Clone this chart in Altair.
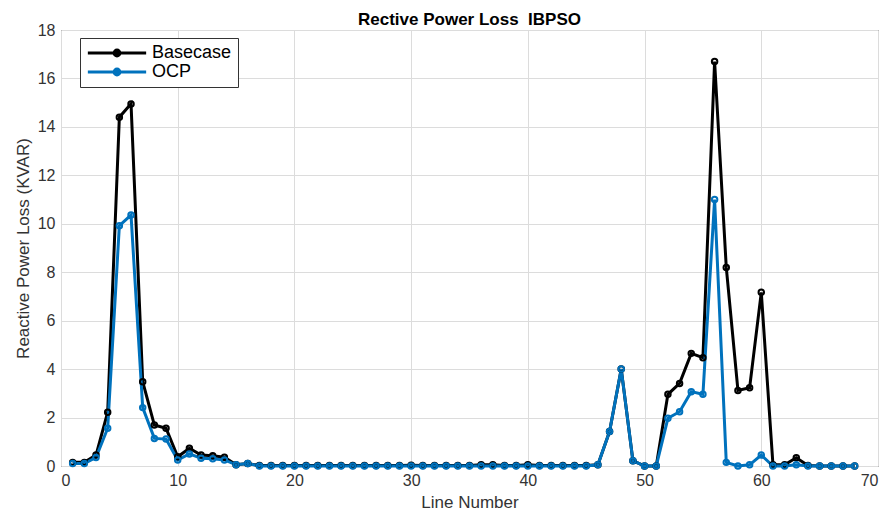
import altair as alt
import pandas as pd

lines = list(range(1, 69))
basecase = [0.15, 0.15, 0.45, 2.22, 14.4, 14.95, 3.48, 1.69, 1.56, 0.38,
            0.73, 0.45, 0.42, 0.36, 0.05, 0.1, 0.02, 0.02, 0.02, 0.02,
            0.02, 0.02, 0.02, 0.02, 0.02, 0.02, 0.02, 0.02, 0.02, 0.03,
            0.02, 0.02, 0.02, 0.02, 0.02, 0.05, 0.05, 0.02, 0.02, 0.05,
            0.02, 0.02, 0.02, 0.02, 0.02, 0.05, 1.42, 4.0, 0.22, 0.0,
            0.0, 2.96, 3.41, 4.65, 4.47, 16.7, 8.2, 3.12, 3.23, 7.17,
            0.05, 0.05, 0.34, 0.02, 0.0, 0.0, 0.0, 0.0]
ocp = [0.1, 0.1, 0.35, 1.56, 9.92, 10.36, 2.41, 1.14, 1.11, 0.25,
       0.5, 0.32, 0.3, 0.25, 0.05, 0.1, 0.0, 0.0, 0.0, 0.0,
       0.0, 0.0, 0.0, 0.0, 0.0, 0.0, 0.0, 0.0, 0.0, 0.0,
       0.0, 0.0, 0.0, 0.0, 0.0, 0.0, 0.0, 0.0, 0.0, 0.0,
       0.0, 0.0, 0.0, 0.0, 0.0, 0.05, 1.42, 4.0, 0.22, 0.0,
       0.0, 1.97, 2.24, 3.07, 2.96, 11.0, 0.15, 0.0, 0.05, 0.45,
       0.0, 0.0, 0.05, 0.0, 0.0, 0.0, 0.0, 0.0]

series_names = ["Basecase", "OCP"]
series_colors = ["#000000", "#0072BD"]

df = pd.concat([
    pd.DataFrame({"line": lines, "loss": basecase, "series": "Basecase"}),
    pd.DataFrame({"line": lines, "loss": ocp, "series": "OCP"}),
])

font = "Liberation Sans"

x = alt.X("line:Q", scale=alt.Scale(domain=[0, 70], nice=False),
          axis=alt.Axis(values=list(range(0, 71, 10)), title="Line Number"))
y = alt.Y("loss:Q", scale=alt.Scale(domain=[0, 18], nice=False),
          axis=alt.Axis(values=list(range(0, 19, 2)), title="Reactive Power Loss (KVAR)"))
color = alt.Color("series:N",
                  scale=alt.Scale(domain=series_names, range=series_colors),
                  legend=alt.Legend(title=None, orient="none", legendX=19, legendY=8,
                                    fillColor="white", strokeColor="#333333",
                                    padding=6, labelFontSize=18, labelFont=font,
                                    symbolType="M-1,0L1,0M0.1,0A0.1,0.1 0 1,1 -0.1,0A0.1,0.1 0 1,1 0.1,0",
                                    symbolSize=3400, symbolStrokeWidth=3,
                                    labelColor="#000", rowPadding=1, clipHeight=18,
                                    labelOffset=4))

base = alt.Chart(df).encode(x=x, y=y, color=color)
line = base.mark_line(strokeWidth=3)
pts = base.mark_point(filled=False, size=30, strokeWidth=2, opacity=1)

chart = alt.layer(line, pts).properties(
    width=817, height=436,
    title=alt.TitleParams("Rective Power Loss \u00a0IBPSO", fontSize=17, fontWeight="bold",
                          font=font, offset=0, dy=7),
    autosize=alt.AutoSizeParams(type="none"),
    padding={"left": 53, "top": 22, "right": 2, "bottom": 46},
).configure_view(stroke="#262626", strokeWidth=1).configure_axis(
    grid=True, gridColor="#dcdcdc", gridWidth=1, domain=False,
    ticks=False, labelFont=font, titleFont=font, labelFontSize=16, titleFontSize=17,
    labelColor="#333", titleColor="#333", titleFontWeight="normal", labelPadding=6
).configure_axisX(titlePadding=6).configure_axisY(titlePadding=5)

chart.save("out.html", embed_options={"renderer": "svg", "actions": False})
